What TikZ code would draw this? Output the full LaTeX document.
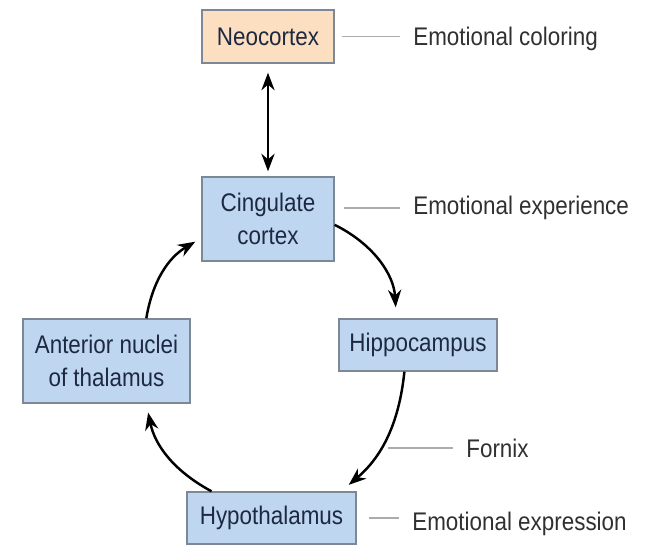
\documentclass[tikz,border=0pt]{standalone}
\usepackage{fontspec}
\setmainfont{Liberation Sans}[FakeStretch=0.88]
\usepackage{xcolor}
\usepackage{tikz}
\usetikzlibrary{positioning, calc, arrows.meta}

\definecolor{boxblue}{HTML}{BFD6F1}
\definecolor{boxorange}{HTML}{FCDFC0}
\definecolor{boxline}{HTML}{7D8896}
\definecolor{boxtext}{HTML}{1D2940}
\definecolor{labeltext}{HTML}{303030}

\begin{document}
\begin{tikzpicture}[x=0.02cm, y=-0.02cm]
			\tikzset{box/.style={draw=boxline, fill=boxblue, text=boxtext, align=center, inner sep=0pt, line width=0.8pt, font=\fontsize{14.5}{18.7}\selectfont}}
			\tikzset{arrow/.style={-{Stealth[length=10pt, width=7.5pt]}, line width=1.4pt}}
			\tikzset{tick/.style={gray!65, line width=0.8pt, shorten <= 0.14cm, shorten >= 0.26cm}}
			\tikzset{role/.style={anchor=west, inner sep=0pt, text=labeltext, font=\fontsize{14.5}{17}\selectfont}}

			\useasboundingbox (0,0) rectangle (659,545);

			\node (neo) [box, fill=boxorange, minimum width=2.64cm, minimum height=1.06cm] at (268,36.5) {Neocortex};
			\node (cing) [box, minimum width=2.64cm, minimum height=1.68cm] at (268,219) {Cingulate\\cortex};
			\node (hippo) [box, minimum width=3.16cm, minimum height=1.04cm] at (418,345) {Hippocampus};
			\node (ant) [box, minimum width=3.34cm, minimum height=1.68cm] at (106.5,361) {Anterior nuclei\\of thalamus};
			\node (hypo) [box, minimum width=3.38cm, minimum height=1.04cm] at (271.5,518) {Hypothalamus};

			\node (coloring) [role] at (413,39) {Emotional coloring};
			\node (experience) [role] at (413,208) {Emotional experience};
			\node (fornix) [role] at (466,448) {Fornix};
			\node (expression) [role] at (412,524) {Emotional expression};

			\draw[{Stealth[length=10pt, width=7.5pt]}-{Stealth[length=10pt, width=7.5pt]}, line width=1.4pt, shorten <= 0.18cm, shorten >= 0.1cm] (neo.south) -- (cing.north);

			\draw[arrow, shorten >= 0.22cm] (cing.-5) to[bend left=30] (hippo.129);
			\draw[arrow, shorten >= 0.2cm] (hippo.-117) to[bend left=22] coordinate[pos=0.55] (fx) (hypo.21);
			\draw[arrow, shorten >= 0.18cm] (hypo.156) to[bend left=25] (ant.-47);
			\draw[arrow, shorten >= 0.14cm] (ant.47) to[bend left=25] (cing.-164);

			\draw[tick] (neo.east) -- (neo.east -| coloring.west);
			\draw[tick, shorten <= 0.18cm] (cing.east |- experience.west) -- (experience.west);
			\draw[tick, shorten <= 0.1cm] (fornix.west -| fx) -- (fornix.west);
			\draw[tick, shorten <= 0.24cm] (hypo.east) -- (hypo.east -| expression.west);
\end{tikzpicture}
\end{document}
